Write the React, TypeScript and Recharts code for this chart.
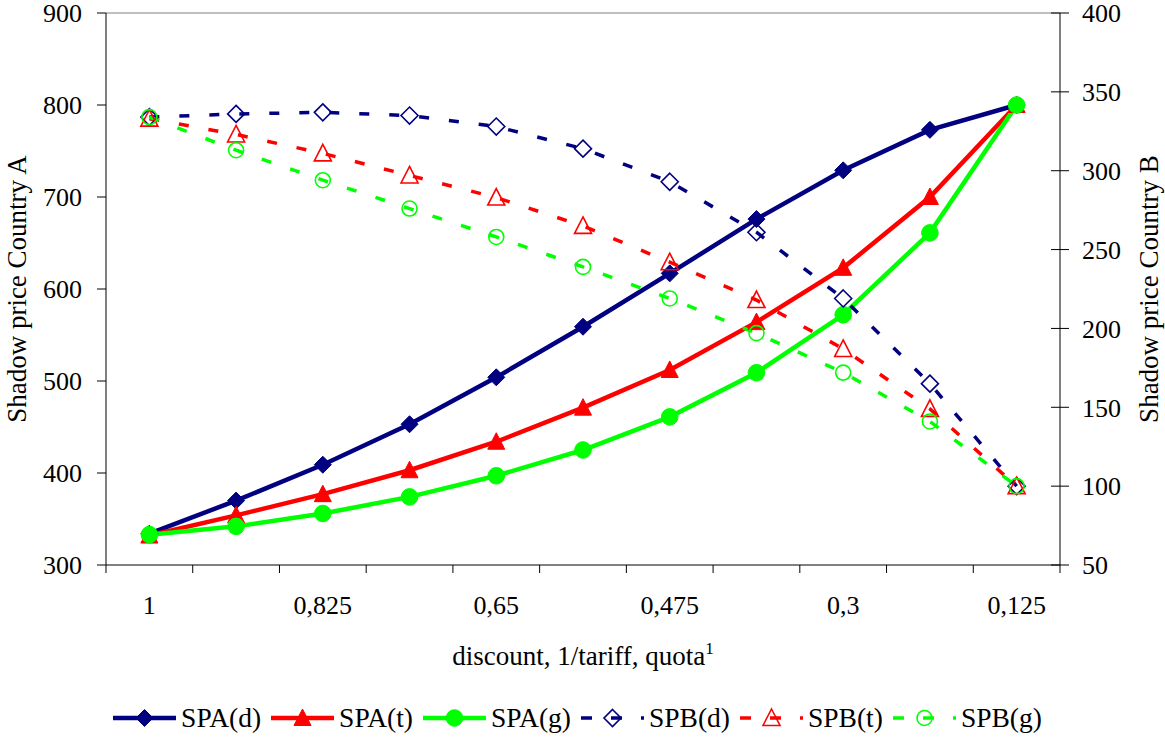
import { Label, Legend, Line, LineChart, ReferenceLine, XAxis, YAxis } from 'recharts'

// x categories: discount / 1/tariff / quota, only every other one is labelled
const xLabels = ['1', '0,9125', '0,825', '0,7375', '0,65', '0,5625', '0,475', '0,3875', '0,3', '0,2125', '0,125']
const shownEvery = 2

// shadow prices, country A (left axis)
const spaD = [334, 370, 409, 453, 504, 559, 617, 676, 729, 773, 800]
const spaT = [332, 354, 377, 403, 434, 471, 512, 564, 623, 700, 800]
const spaG = [333, 342, 356, 374, 397, 425, 461, 509, 572, 661, 800]

// shadow prices, country B (right axis)
const spbD = [334, 336, 337, 335, 328, 314, 293, 261, 219, 165, 100]
const spbT = [333, 323, 311, 297, 283, 265, 242, 218, 187, 149, 100]
const spbG = [334, 313, 294, 276, 258, 239, 219, 197, 172, 141, 100]

const leftTicks = [300, 400, 500, 600, 700, 800, 900]
const rightTicks = [50, 100, 150, 200, 250, 300, 350, 400]

type Shape = 'diamond' | 'triangle' | 'circle'
type SeriesMeta = {
  key: string
  name: string
  values: number[]
  color: string
  shape: Shape
  hollow: boolean
  axis: 'left' | 'right'
}

const NAVY = '#000080'
const RED = '#FF0000'
const GREEN = '#00FF00'
const FONT = '"Liberation Serif", "Times New Roman", serif'
const DASH = '10 20'

const series: SeriesMeta[] = [
  { key: 'spaD', name: 'SPA(d)', values: spaD, color: NAVY, shape: 'diamond', hollow: false, axis: 'left' },
  { key: 'spaT', name: 'SPA(t)', values: spaT, color: RED, shape: 'triangle', hollow: false, axis: 'left' },
  { key: 'spaG', name: 'SPA(g)', values: spaG, color: GREEN, shape: 'circle', hollow: false, axis: 'left' },
  { key: 'spbD', name: 'SPB(d)', values: spbD, color: NAVY, shape: 'diamond', hollow: true, axis: 'right' },
  { key: 'spbT', name: 'SPB(t)', values: spbT, color: RED, shape: 'triangle', hollow: true, axis: 'right' },
  { key: 'spbG', name: 'SPB(g)', values: spbG, color: GREEN, shape: 'circle', hollow: true, axis: 'right' },
]

const data = xLabels.map((label, i) => {
  const row: Record<string, number | string> = { i, label }
  series.forEach((s) => {
    row[s.key] = s.values[i]
  })
  return row
})

// numeric x axis so tick marks can sit between categories (Excel style)
const xTicks = [
  ...xLabels.map((_, i) => i - 0.5),
  xLabels.length - 0.5,
  ...xLabels.map((_, i) => i).filter((i) => i % shownEvery === 0),
]

function Marker({ shape, cx, cy, color, hollow }: { shape: Shape; cx: number; cy: number; color: string; hollow: boolean }) {
  const fill = hollow ? 'none' : color
  const sw = hollow ? 1.6 : 1
  if (shape === 'diamond') {
    const r = 8.5
    return <polygon points={`${cx},${cy - r} ${cx + r},${cy} ${cx},${cy + r} ${cx - r},${cy}`} fill={fill} stroke={color} strokeWidth={sw} />
  }
  if (shape === 'triangle') {
    return <polygon points={`${cx},${cy - 9} ${cx + 8.5},${cy + 7.5} ${cx - 8.5},${cy + 7.5}`} fill={fill} stroke={color} strokeWidth={sw} />
  }
  return <circle cx={cx} cy={cy} r={hollow ? 7.5 : 8.3} fill={fill} stroke={color} strokeWidth={sw} />
}

function XTick(props: any) {
  const { x, y, payload } = props
  const v = payload.value as number
  if (!Number.isInteger(v)) {
    return <line x1={x} x2={x} y1={y} y2={y + 8} stroke="#000" strokeWidth={1} />
  }
  return (
    <text x={x} y={y + 49} textAnchor="middle" fontSize={26} fontFamily={FONT} fill="#000">
      {xLabels[v]}
    </text>
  )
}

function RightTick(props: any) {
  const { x, y, payload } = props
  return (
    <g>
      <line x1={x - 9} x2={x + 9} y1={y} y2={y} stroke="#000" strokeWidth={1} />
      <text x={x + 22} y={y} dy="0.355em" textAnchor="start" fontSize={26} fontFamily={FONT} fill="#000">
        {payload.value}
      </text>
    </g>
  )
}

function XTitle(props: any) {
  const vb = props.viewBox
  return (
    <text x={vb.x + vb.width / 2} y={vb.y + 100} textAnchor="middle" fontSize={27} fontFamily={FONT} fill="#000">
      discount, 1/tariff, quota
      <tspan dy={-11} fontSize={17}>1</tspan>
    </text>
  )
}

function YTitle(props: any) {
  const vb = props.viewBox
  const x = props.side === 'left' ? vb.x + 26 : vb.x + 98
  const y = vb.y + vb.height / 2
  return (
    <text x={x} y={y} transform={`rotate(-90, ${x}, ${y})`} textAnchor="middle" fontSize={27} fontFamily={FONT} fill="#000">
      {props.text}
    </text>
  )
}

function LegendSample({ s }: { s: SeriesMeta }) {
  const w = 63
  return (
    <svg width={w} height={24} style={{ display: 'block' }}>
      <line
        x1={0}
        x2={w}
        y1={12}
        y2={12}
        stroke={s.color}
        strokeWidth={s.hollow ? 3.5 : 4.5}
        strokeDasharray={s.hollow ? '11 19' : undefined}
        strokeLinecap={s.hollow ? 'butt' : 'round'}
      />
      <Marker shape={s.shape} cx={w / 2} cy={12} color={s.color} hollow={s.hollow} />
    </svg>
  )
}

function LegendBox() {
  return (
    <div
      style={{
        height: 64,
        display: 'flex',
        alignItems: 'center',
        justifyContent: 'center',
        fontFamily: FONT,
        fontSize: 27.5,
        color: '#000',
        position: 'relative',
        top: 12,
      }}
    >
      {series.map((s) => (
        <div key={s.key} style={{ display: 'flex', alignItems: 'center', marginRight: 10 }}>
          <LegendSample s={s} />
          <span style={{ marginLeft: 5, lineHeight: 1 }}>{s.name}</span>
        </div>
      ))}
    </div>
  )
}

export default function App() {
  return (
    <div style={{ position: 'absolute', left: 0, top: 0, width: 1165, height: 738, background: '#fff' }}>
      <LineChart width={1165} height={738} data={data} margin={{ top: 13, right: 0, bottom: 0, left: 0 }}>
        <XAxis
          dataKey="i"
          type="number"
          domain={[-0.5, xLabels.length - 0.5]}
          ticks={xTicks}
          interval={0}
          tick={<XTick />}
          tickLine={false}
          tickSize={0}
          tickMargin={0}
          height={109}
          axisLine={{ stroke: '#000', strokeWidth: 1 }}
          label={<Label content={(p: any) => <XTitle {...p} />} />}
        />
        <YAxis
          yAxisId="left"
          domain={[300, 900]}
          ticks={leftTicks}
          interval={0}
          width={106}
          tickSize={9}
          tickMargin={15}
          tick={{ fill: '#000', fontSize: 26, fontFamily: FONT }}
          tickLine={{ stroke: '#000' }}
          axisLine={{ stroke: '#000', strokeWidth: 1 }}
          label={<Label content={(p: any) => <YTitle {...p} side="left" text="Shadow price Country A" />} />}
        />
        <YAxis
          yAxisId="right"
          orientation="right"
          domain={[50, 400]}
          ticks={rightTicks}
          interval={0}
          width={105}
          tickSize={0}
          tickMargin={0}
          tick={<RightTick />}
          tickLine={false}
          axisLine={{ stroke: '#000', strokeWidth: 1 }}
          label={<Label content={(p: any) => <YTitle {...p} side="right" text="Shadow price Country B" />} />}
        />
        <ReferenceLine yAxisId="left" y={900} stroke="#808080" strokeWidth={1} />
        <Legend verticalAlign="bottom" content={() => <LegendBox />} />
        {series.map((s) => (
          <Line
            key={s.key}
            yAxisId={s.axis}
            dataKey={s.key}
            name={s.name}
            type="linear"
            stroke={s.color}
            strokeWidth={s.hollow ? 3.5 : 4.5}
            strokeDasharray={s.hollow ? DASH : undefined}
            dot={(p: any) => <Marker key={p.index} shape={s.shape} cx={p.cx} cy={p.cy} color={s.color} hollow={s.hollow} />}
            activeDot={false}
            isAnimationActive={false}
          />
        ))}
      </LineChart>
    </div>
  )
}
